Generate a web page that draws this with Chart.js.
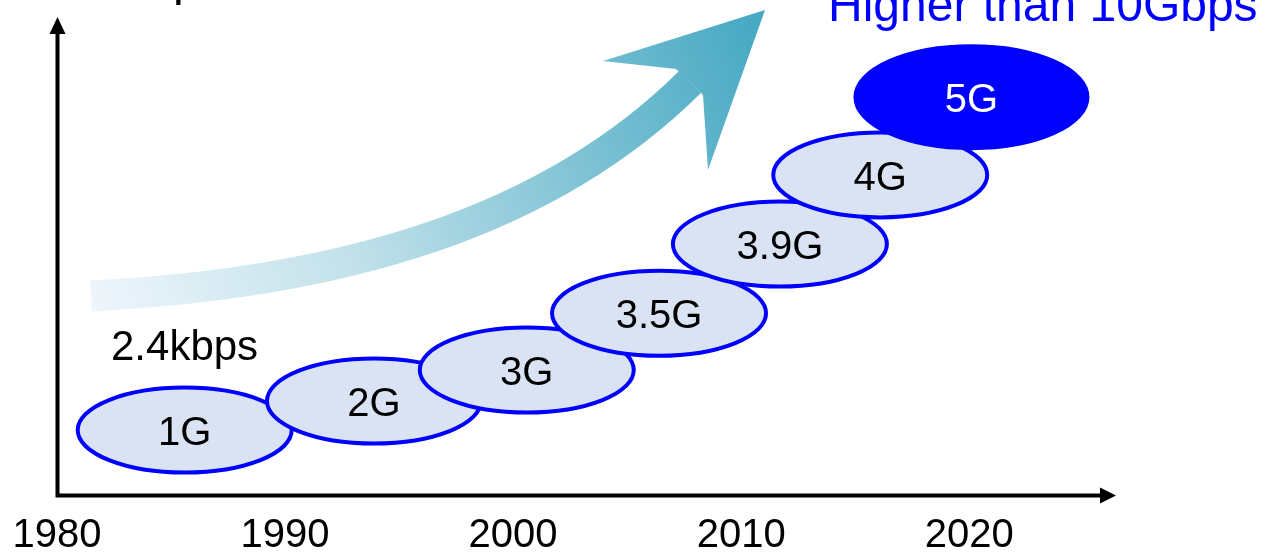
<!DOCTYPE html>
<html>
<head>
<meta charset="utf-8">
<title>Mobile generations</title>
<script src="https://cdn.jsdelivr.net/npm/chart.js@4.4.1/dist/chart.umd.min.js"></script>
<style>
  html, body { margin: 0; padding: 0; background: #ffffff; }
  #wrap { width: 1261px; height: 552px; overflow: hidden; }
  canvas { display: block; }
</style>
</head>
<body>
<div id="wrap"><canvas id="gen" width="1261" height="552"></canvas></div>
<script>
// Mobile network generations, placed by year of arrival and relative peak speed
const generations = ['1G', '2G', '3G', '3.5G', '3.9G', '4G', '5G'];
const arrivalYears = [1985.6, 1993.9, 2000.6, 2006.4, 2011.7, 2016.1, 2020.1];
const speedLevels = [13.4, 19.5, 26.0, 37.9, 52.4, 66.9, 83.2];
const yearTicks = [1980, 1990, 2000, 2010, 2020];

const FONT = '"Liberation Sans", Arial, Helvetica, sans-serif';

// Generation bubbles, the trend arrow, the axes with arrow heads and the notes
const overlay = {
  id: 'overlay',
  beforeDraw(chart) {
    const c = chart.ctx;
    c.save();
    c.fillStyle = '#ffffff';
    c.fillRect(0, 0, chart.width, chart.height);
    c.restore();
  },
  afterDatasetsDraw(chart) {
    const c = chart.ctx;
    const area = chart.chartArea;
    c.save();

    // trend arrow: curved shaft fading in from the left, solid head
    const grad = c.createLinearGradient(91, 300, 760, 40);
    grad.addColorStop(0, '#eef5fb');
    grad.addColorStop(0.35, '#c3e2eb');
    grad.addColorStop(0.7, '#80c3d5');
    grad.addColorStop(1, '#47a9c3');
    c.strokeStyle = grad;
    c.lineWidth = 31;
    c.lineCap = 'butt';
    c.beginPath();
    c.moveTo(91, 296);
    c.bezierCurveTo(341, 283.5, 548, 223, 690, 82);
    c.stroke();
    c.fillStyle = grad;
    c.beginPath();
    c.moveTo(765, 10);
    c.lineTo(603, 61);
    c.lineTo(676, 69);
    c.lineTo(703, 95);
    c.lineTo(708, 170);
    c.closePath();
    c.fill();

    // axes
    const ox = area.left + 0.5;
    const oy = area.bottom + 1.5;
    c.strokeStyle = '#000000';
    c.fillStyle = '#000000';
    c.lineWidth = 4;
    c.lineCap = 'butt';
    c.beginPath();
    c.moveTo(ox, oy + 2);
    c.lineTo(ox, 32);
    c.moveTo(ox - 2, oy);
    c.lineTo(area.right, oy);
    c.stroke();
    c.beginPath();
    c.moveTo(ox, 17);
    c.lineTo(ox - 8, 34);
    c.lineTo(ox + 8, 34);
    c.closePath();
    c.fill();
    const tipX = area.right + 10;
    c.beginPath();
    c.moveTo(tipX, oy);
    c.lineTo(tipX - 16, oy - 8);
    c.lineTo(tipX - 16, oy + 8);
    c.closePath();
    c.fill();

    // generation bubbles, later ones over earlier ones
    const meta = chart.getDatasetMeta(0);
    c.textAlign = 'center';
    c.textBaseline = 'middle';
    c.font = '40px ' + FONT;
    meta.data.forEach((pt, i) => {
      const last = i === generations.length - 1;
      const rx = last ? 116 : 107;
      const ry = last ? 51 : 42.5;
      c.beginPath();
      c.ellipse(pt.x, pt.y, rx, ry, 0, 0, Math.PI * 2);
      c.fillStyle = last ? '#0000ff' : '#dae3f3';
      c.fill();
      c.lineWidth = 4;
      c.strokeStyle = '#0000ff';
      c.stroke();
      c.fillStyle = last ? '#ffffff' : '#000000';
      c.fillText(generations[i], pt.x, pt.y + 4);
    });

    // notes
    c.textAlign = 'left';
    c.textBaseline = 'alphabetic';
    c.fillStyle = '#000000';
    c.font = '42px ' + FONT;
    c.fillText('2.4kbps', 111, 360);
    c.font = '48px ' + FONT;
    c.fillText('Speed', 141, -5);
    c.fillStyle = '#0000ff';
    c.fillText('Higher than 10Gbps', 828, 21);
    c.restore();
  }
};

new Chart(document.getElementById('gen'), {
  type: 'scatter',
  data: {
    datasets: [{
      data: arrivalYears.map((x, i) => ({ x: x, y: speedLevels[i] })),
      pointRadius: 0,
      pointHoverRadius: 0
    }]
  },
  options: {
    responsive: false,
    animation: false,
    devicePixelRatio: 1,
    events: [],
    layout: { padding: { left: 57, right: 155, top: 17, bottom: -26 } },
    plugins: { legend: { display: false }, tooltip: { enabled: false } },
    scales: {
      x: {
        type: 'linear',
        min: 1980,
        max: 2026,
        afterBuildTicks(scale) { scale.ticks = yearTicks.map(v => ({ value: v })); },
        afterFit(scale) { scale.paddingLeft = 0; scale.paddingRight = 0; },
        ticks: {
          autoSkip: false,
          maxRotation: 0,
          padding: 22,
          color: '#000000',
          font: { family: FONT, size: 40, lineHeight: 1 },
          callback: v => String(v)
        },
        grid: { display: false, drawTicks: false },
        border: { display: false }
      },
      y: { display: false, min: 0, max: 100 }
    }
  },
  plugins: [overlay]
});
</script>
</body>
</html>
